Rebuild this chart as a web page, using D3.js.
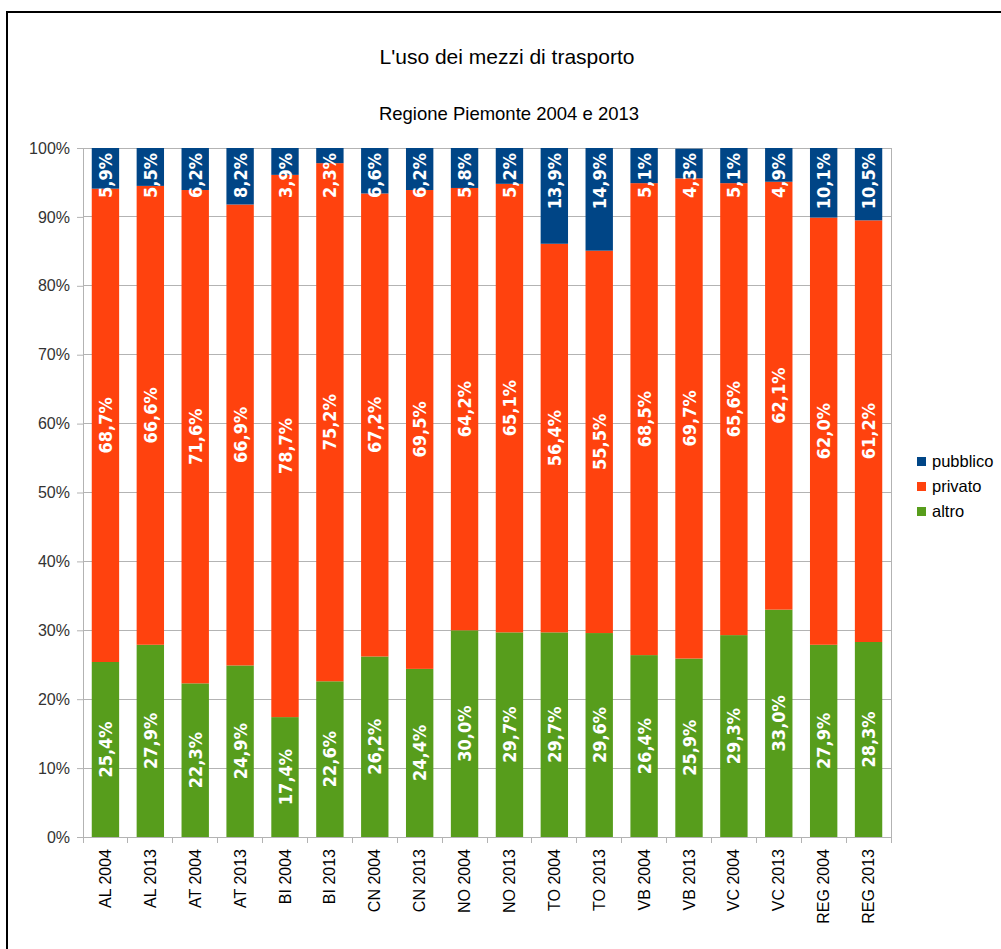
<!DOCTYPE html>
<html>
<head>
<meta charset="utf-8">
<script src="https://cdn.jsdelivr.net/npm/d3@7"></script>
<style>
  body { margin: 0; background: #fff; }
  svg { display: block; }
</style>
</head>
<body>
<svg id="chart"></svg>
<script>
// dati: categorie e serie (valori in %)
const categories = ["AL 2004", "AL 2013", "AT 2004", "AT 2013", "BI 2004", "BI 2013",
  "CN 2004", "CN 2013", "NO 2004", "NO 2013", "TO 2004", "TO 2013",
  "VB 2004", "VB 2013", "VC 2004", "VC 2013", "REG 2004", "REG 2013"];
const altro    = [25.4, 27.9, 22.3, 24.9, 17.4, 22.6, 26.2, 24.4, 30.0, 29.7, 29.7, 29.6, 26.4, 25.9, 29.3, 33.0, 27.9, 28.3];
const privato  = [68.7, 66.6, 71.6, 66.9, 78.7, 75.2, 67.2, 69.5, 64.2, 65.1, 56.4, 55.5, 68.5, 69.7, 65.6, 62.1, 62.0, 61.2];
const pubblico = [5.9, 5.5, 6.2, 8.2, 3.9, 2.3, 6.6, 6.2, 5.8, 5.2, 13.9, 14.9, 5.1, 4.3, 5.1, 4.9, 10.1, 10.5];
const seriesNames = ["altro", "privato", "pubblico"];
const yTicks = [0, 10, 20, 30, 40, 50, 60, 70, 80, 90, 100];
const colors = { altro: "#579d1c", privato: "#ff420e", pubblico: "#004586" };

const width = 1001, height = 949;
const svg = d3.select("#chart").attr("width", width).attr("height", height);

// cornice
svg.append("path")
  .attr("d", "M7,949 V12 H1001")
  .attr("fill", "none").attr("stroke", "#000").attr("stroke-width", 2);

const plot = { left: 83, right: 891, top: 148, bottom: 837 };

const x = d3.scaleBand().domain(categories).range([plot.left, plot.right]).paddingInner(0.39).paddingOuter(0.195);
const y = d3.scaleLinear().domain([0, 100]).range([plot.bottom, plot.top]);

const sans = "Liberation Sans, Arial, sans-serif";

// titoli
svg.append("text").attr("x", 507).attr("y", 64).attr("text-anchor", "middle")
  .style("font-family", sans).style("font-size", "21px").attr("fill", "#000")
  .text("L'uso dei mezzi di trasporto");
svg.append("text").attr("x", 509).attr("y", 120).attr("text-anchor", "middle")
  .style("font-family", sans).style("font-size", "18.5px").attr("fill", "#000")
  .text("Regione Piemonte 2004 e 2013");

// griglia
svg.append("g").selectAll("line").data(yTicks).enter().append("line")
  .attr("x1", plot.left).attr("x2", plot.right)
  .attr("y1", d => y(d)).attr("y2", d => y(d))
  .attr("stroke", "#b3b3b3").attr("stroke-width", 1).attr("shape-rendering", "crispEdges");
svg.append("line").attr("x1", plot.right).attr("x2", plot.right).attr("y1", plot.top).attr("y2", plot.bottom)
  .attr("stroke", "#b3b3b3").attr("shape-rendering", "crispEdges");

// asse y
const yAxis = svg.append("g").attr("transform", `translate(${plot.left},0)`)
  .call(d3.axisLeft(y).tickValues(yTicks).tickFormat(d => d + "%").tickSize(6).tickPadding(7));
yAxis.select(".domain").attr("stroke", "#b3b3b3");
yAxis.selectAll(".tick line").attr("stroke", "#b3b3b3");
yAxis.selectAll("text").style("font-family", sans).style("font-size", "16px").attr("fill", "#333");

// asse x: tacche ai bordi delle bande
const edges = d3.range(categories.length + 1).map(i => plot.left + i * (plot.right - plot.left) / categories.length);
svg.append("line").attr("x1", plot.left).attr("x2", plot.right).attr("y1", plot.bottom).attr("y2", plot.bottom)
  .attr("stroke", "#b3b3b3").attr("shape-rendering", "crispEdges");
svg.append("g").selectAll("line").data(edges).enter().append("line")
  .attr("x1", d => d).attr("x2", d => d).attr("y1", plot.bottom).attr("y2", plot.bottom + 6)
  .attr("stroke", "#b3b3b3").attr("shape-rendering", "crispEdges");
svg.append("g").selectAll("text").data(categories).enter().append("text")
  .attr("transform", d => `translate(${x(d) + x.bandwidth() / 2 + 5.5},${plot.bottom + 12}) rotate(-90)`)
  .attr("text-anchor", "end")
  .style("font-family", sans).style("font-size", "16px").attr("fill", "#000")
  .text(d => d);

// barre impilate
const rows = categories.map((c, i) => ({ cat: c, altro: altro[i], privato: privato[i], pubblico: pubblico[i] }));
const stacked = d3.stack().keys(seriesNames)(rows);

const fmt = v => v.toFixed(1).replace(".", ",") + "%";

stacked.forEach(layer => {
  const g = svg.append("g").attr("class", "serie-" + layer.key);
  g.selectAll("rect").data(layer).enter().append("rect")
    .attr("x", d => x(d.data.cat))
    .attr("width", x.bandwidth())
    .attr("y", d => y(Math.min(d[1], 100)))
    .attr("height", d => y(d[0]) - y(Math.min(d[1], 100)))
    .attr("fill", colors[layer.key]);

  g.selectAll("text").data(layer).enter().append("text")
    .attr("transform", d => {
      const cx = x(d.data.cat) + x.bandwidth() / 2 + 6.5;
      if (layer.key === "pubblico") return `translate(${cx},${plot.top + 5}) rotate(-90)`;
      return `translate(${cx},${(y(d[0]) + y(d[1])) / 2}) rotate(-90)`;
    })
    .attr("text-anchor", layer.key === "pubblico" ? "end" : "middle")
    .style("font-family", "DejaVu Sans Condensed, DejaVu Sans, sans-serif")
    .style("font-weight", "bold").style("font-size", "18px")
    .attr("fill", "#fff")
    .text(d => fmt(d.data[layer.key]));
});

// legenda
const legendItems = ["pubblico", "privato", "altro"];
const legend = svg.append("g").attr("transform", "translate(917,457)");
legendItems.forEach((k, i) => {
  legend.append("rect").attr("x", 0).attr("y", i * 25).attr("width", 9).attr("height", 9).attr("fill", colors[k]);
  legend.append("text").attr("x", 15).attr("y", i * 25 + 10)
    .style("font-family", sans).style("font-size", "16.5px").attr("fill", "#000")
    .text(k);
});
</script>
</body>
</html>
